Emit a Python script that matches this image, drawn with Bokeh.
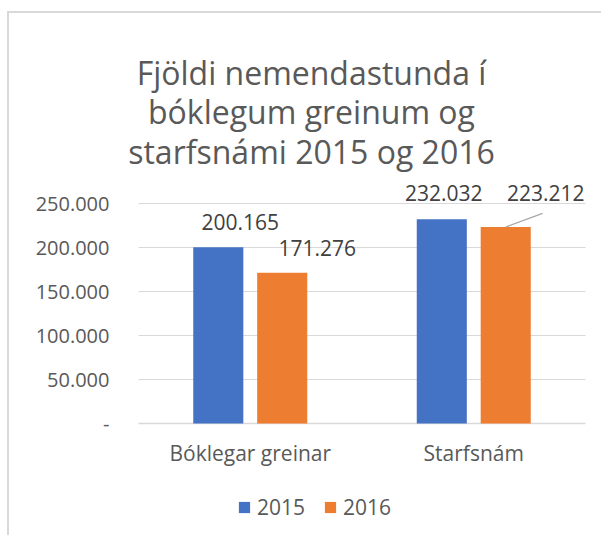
from bokeh.plotting import figure
from bokeh.models import (ColumnDataSource, FactorRange, Range1d, FixedTicker, Label,
                          Legend, LegendItem)
from bokeh.transform import dodge
from bokeh.core.properties import value
from bokeh.embed import file_html
from bokeh.resources import INLINE

# ---- data ----
categories = ["Bóklegar greinar", "Starfsnám"]
series_names = ["2015", "2016"]
values_2015 = [200165, 232032]
values_2016 = [171276, 223212]
y_ticks = [0, 50000, 100000, 150000, 200000, 250000]
title_lines = ["Fjöldi nemendastunda í", "bóklegum greinum og", "starfsnámi 2015 og 2016"]


def fmt(v):
    return "-" if v == 0 else f"{v:,}".replace(",", ".")


FONT = "Open Sans"
BLUE = "#4472C4"
ORANGE = "#ED7D31"
GRID = "#D9D9D9"
TXT = "#595959"
LBL = "#404040"

# layout constants (page pixels)
CX, CY = 9, 13                 # where the canvas starts on the page
CAT_L, CAT_R = 138, 585        # extent of the category area
PAD = 18                       # frame extends this far beyond the category area
ZERO_Y = 423                   # baseline position on the page
PX_PER_UNIT = 44 / 50000
H = 524
bottom_px = CY + H
y_start = -(bottom_px - ZERO_Y) / PX_PER_UNIT
y_end = (ZERO_Y - CY) / PX_PER_UNIT
cat_px = (CAT_R - CAT_L) / len(categories)


def y_at(py):
    return (ZERO_Y - py) / PX_PER_UNIT


def x_at(px):
    return (px - CAT_L) / cat_px


xr = FactorRange(*categories, range_padding=PAD / cat_px, range_padding_units="absolute")
p = figure(width=CAT_R + PAD - CX, height=H, x_range=xr,
           y_range=Range1d(y_start, y_end), output_backend="svg",
           toolbar_location=None, min_border_left=CAT_L - PAD - CX, min_border_right=0,
           min_border_top=0, min_border_bottom=0, title=None)
p.margin = (CY - 2, 0, 0, CX - 2)
p.styles = {"border-left": "2px solid #d9d9d9", "border-top": "2px solid #d9d9d9"}
p.outline_line_color = None
p.background_fill_color = "white"
p.border_fill_color = "white"

# title, three centred lines
for line, base in zip(title_lines, [72, 111, 151]):
    p.add_layout(Label(x=x_at(311), y=y_at(base), text=line, text_align="center",
                       text_baseline="alphabetic", text_font=FONT, text_font_size="32px",
                       text_color=TXT))

# gridlines and baseline over the category area only
grid_src = ColumnDataSource(dict(y=y_ticks,
                                 c0=[categories[0]] * len(y_ticks),
                                 c1=[categories[-1]] * len(y_ticks),
                                 w=[1.5] + [1.2] * (len(y_ticks) - 1)))
p.segment(x0=dodge("c0", -0.5, range=xr), x1=dodge("c1", 0.5, range=xr), y0="y", y1="y",
          source=grid_src, line_color=GRID, line_width="w")

src = ColumnDataSource(dict(
    cat=categories,
    v2015=values_2015,
    v2016=values_2016,
))

OFF = 0.143
W = 0.224
r1 = p.vbar(x=dodge("cat", -OFF, range=xr), top="v2015", width=W, source=src,
            fill_color=BLUE, line_color=None)
r2 = p.vbar(x=dodge("cat", OFF, range=xr), top="v2016", width=W, source=src,
            fill_color=ORANGE, line_color=None)

# category labels below the baseline
p.text(x="cat", y=0, text="cat", source=ColumnDataSource(dict(cat=categories)),
       y_offset=29, text_align="center", text_baseline="middle",
       text_font=value(FONT), text_font_size="21px", text_color=TXT)

# data labels (pixel offsets for placement like the original)
src_l1 = ColumnDataSource(dict(cat=categories, v=values_2015, t=[fmt(v) for v in values_2015],
                               dx=[22, 2], dy=[-25, -26]))
src_l2 = ColumnDataSource(dict(cat=categories, v=values_2016, t=[fmt(v) for v in values_2016],
                               dx=[35, 40], dy=[-25, -34]))
for s, off in ((src_l1, -OFF), (src_l2, OFF)):
    p.text(x=dodge("cat", off, range=xr), y="v", text="t", source=s,
           x_offset="dx", y_offset="dy", text_align="center", text_baseline="middle",
           text_font=value(FONT), text_font_size="21px", text_color=LBL)

# leader line for the last label
lead = ColumnDataSource(dict(cat=[categories[1]], v=[values_2016[1]],
                             v1=[values_2016[1] + 15500]))
p.segment(x0=dodge("cat", OFF, range=xr), y0="v",
          x1=dodge("cat", OFF + 0.165, range=xr), y1="v1", source=lead,
          line_color="#A6A6A6", line_width=1.2)

# axes
p.xaxis.visible = False
p.yaxis.ticker = FixedTicker(ticks=y_ticks)
p.yaxis.major_label_overrides = {t: fmt(t) for t in y_ticks}
p.yaxis.axis_line_color = None
p.yaxis.major_tick_line_color = None
p.yaxis.minor_tick_line_color = None
p.yaxis.major_tick_out = 0
p.yaxis.major_tick_in = 0
p.yaxis.major_label_standoff = 29 - PAD
p.yaxis.major_label_text_font = FONT
p.yaxis.major_label_text_font_size = "20px"
p.yaxis.major_label_text_color = TXT

p.xgrid.grid_line_color = None
p.ygrid.grid_line_color = None

legend = Legend(items=[LegendItem(label=series_names[0], renderers=[r1]),
                       LegendItem(label=series_names[1], renderers=[r2])],
                orientation="horizontal", location=(99 + PAD, bottom_px - 521),
                label_text_font=FONT, label_text_font_size="21px",
                label_text_color=TXT, glyph_width=14, glyph_height=14,
                border_line_color=None, background_fill_alpha=0,
                spacing=18, label_standoff=6, margin=0, padding=2)
p.add_layout(legend, "center")

open("out.html", "w").write(file_html(p, INLINE))
